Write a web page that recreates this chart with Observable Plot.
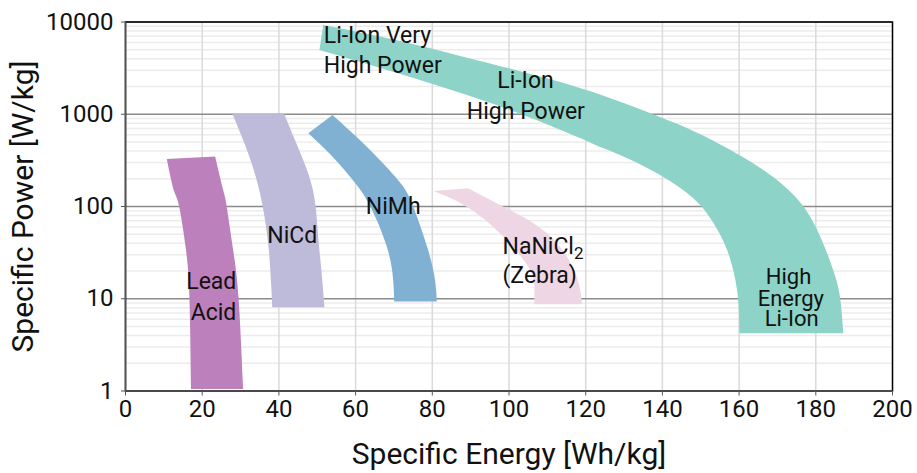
<!DOCTYPE html>
<html>
<head>
<meta charset="utf-8">
<script src="https://cdn.jsdelivr.net/npm/d3@7"></script>
<script src="https://cdn.jsdelivr.net/npm/@observablehq/plot@0.6"></script>
<style>
  html, body { margin: 0; padding: 0; background: #fff; }
  #chart svg { display: block; }
</style>
</head>
<body>
<div id="chart"></div>
<script>
// ---- tick values ----
const xTicks = [0, 20, 40, 60, 80, 100, 120, 140, 160, 180, 200];
const yTicks = [1, 10, 100, 1000, 10000];
const yMinorMultipliers = [2, 3, 4, 5, 6, 7, 8, 9];

// ---- band edges: [specific energy Wh/kg, specific power W/kg] ----
const leadAcidInner = [[10.9, 323], [12.7, 149], [14.1, 100], [15.9, 33.3], [16.8, 10.1], [17.2, 1.04]];
const leadAcidOuter = [[23.5, 344], [25.6, 149], [26.5, 100], [28.2, 33.3], [29.6, 10.1], [30.8, 1.04]];

const niCdInner = [[28.0, 1000], [31.8, 404], [35.0, 149], [37.0, 51], [37.9, 20.2], [38.4, 8.0]];
const niCdOuter = [[41.5, 1000], [45.4, 404], [49.0, 149], [50.3, 51], [51.2, 20.2], [52.0, 8.0]];

const niMhInner = [[47.8, 614], [53.7, 357], [59.4, 191], [63.9, 100], [68.3, 35.9], [69.9, 16.2], [70.2, 9.2]];
const niMhOuter = [[54.1, 969], [62.6, 458], [71.2, 191], [75.1, 100], [78.8, 35.9], [80.8, 16.2], [81.3, 9.2]];

const zebraInner = [[80.4, 145], [89.1, 98.3], [97.8, 50.6], [103.9, 26.0], [106.5, 16.2], [106.7, 8.6]];
const zebraOuter = [[89.5, 156], [97.8, 102.5], [106.5, 64.9], [113.4, 36.2], [117.8, 17.1], [119.2, 8.6]];

const liIonInner = [[50.7, 4909], [76.9, 2323], [100.4, 1098], [118.6, 546], [123.9, 436], [129.1, 357], [139.5, 217],
                    [148.1, 122], [153.3, 67.1], [157.0, 33.3], [159.1, 16.2], [160.0, 8.45], [160.2, 4.17]];
const liIonOuter = [[51.7, 9164], [71.7, 6150], [92.6, 3732], [118.6, 1901], [139.5, 922], [149.9, 603], [160.4, 353],
                    [169.0, 206], [176.8, 100], [182.0, 39.7], [185.4, 16.2], [186.7, 8.45], [187.3, 4.17]];

const bandNames = ["Lead Acid", "NiCd", "NiMh", "NaNiCl2", "Li-Ion"];
const bandColors = ["#bc80bd", "#bebada", "#80b1d3", "#efd6e4", "#8dd3c7"];
const bandInner = [leadAcidInner, niCdInner, niMhInner, zebraInner, liIonInner];
const bandOuter = [leadAcidOuter, niCdOuter, niMhOuter, zebraOuter, liIonOuter];

// ---- annotation labels (one entry per line) ----
const labelText   = ["Li-Ion Very", "High Power", "Li-Ion", "High Power", "NiMh", "NiCd", "Lead", "Acid",
                     "NaNiCl2", "(Zebra)", "High", "Energy", "Li-Ion"];
const labelEnergy = [51.7, 51.7, 104.3, 104.4, 69.8, 43.5, 28.9, 28.9, 98.3, 98.3, 172.9, 173.5, 173.7];
const labelPower  = [7194, 3404, 2339, 1063, 99.3, 48.9, 15.5, 7.04, 36.6, 18.0, 17.3, 10.06, 6.0];
const labelAnchor = ["start", "start", "middle", "middle", "middle", "middle", "end", "end",
                     "start", "start", "middle", "middle", "middle"];
const labelSize   = [23, 23, 23, 23, 23, 23, 23, 23, 23, 23, 22, 22, 22];

// ---- build tables ----
const yMinor = [];
for (const d of [1, 10, 100, 1000]) for (const m of yMinorMultipliers) yMinor.push(d * m);

const bandMarks = bandNames.map((name, k) => {
  const rows = bandInner[k].map((p, i) => ({
    xa: p[0], ya: p[1], xb: bandOuter[k][i][0], yb: bandOuter[k][i][1]
  }));
  return Plot.area(rows, {x1: "xa", y1: "ya", x2: "xb", y2: "yb",
                          fill: bandColors[k], curve: "natural"});
});

const labels = labelText.map((t, i) => ({text: t, x: labelEnergy[i], y: labelPower[i],
                                          anchor: labelAnchor[i], size: labelSize[i]}));
const labelMarks = [];
for (const a of ["start", "middle", "end"]) for (const s of [22, 23]) {
  const sub = labels.filter(d => d.anchor === a && d.size === s);
  if (sub.length) labelMarks.push(Plot.text(sub, {
    x: "x", y: "y", text: "text", textAnchor: a, fontSize: s, fill: "#111"
  }));
}

const chart = Plot.plot({
  width: 917,
  height: 473,
  marginLeft: 125,
  marginRight: 25,
  marginTop: 21.5,
  marginBottom: 82.5,
  style: {fontFamily: "Roboto, 'DejaVu Sans', sans-serif", color: "#111", background: "#fff"},
  x: {domain: [0, 200]},
  y: {type: "log", domain: [1, 10000]},
  marks: [
    Plot.ruleY(yMinor, {stroke: "#ececec", strokeWidth: 1.5}),
    Plot.ruleX(xTicks, {stroke: "#dadada", strokeWidth: 1.5}),
    Plot.ruleY(yTicks, {stroke: "#8c8c8c", strokeWidth: 1.5}),
    ...bandMarks,
    Plot.frame({stroke: "#000", strokeWidth: 1.5}),
    Plot.ruleX([0], {stroke: "#555", strokeWidth: 1.5}),
    Plot.ruleY([1], {stroke: "#555", strokeWidth: 1.5}),
    Plot.axisX({ticks: xTicks, tickSize: 5, tickPadding: 4, fontSize: 24, label: null, stroke: "#555", color: "#111"}),
    Plot.axisY({ticks: yTicks, tickFormat: d => String(d), tickSize: 4, tickPadding: 8, fontSize: 24, label: null, stroke: "#555"}),
    ...labelMarks,
    Plot.text(["Specific Energy [Wh/kg]"], {text: d => d, frameAnchor: "bottom", lineAnchor: "middle",
                                            textAnchor: "middle", dy: 63, fontSize: 30, fill: "#111"}),
    Plot.text(["Specific Power [W/kg]"], {text: d => d, frameAnchor: "left", lineAnchor: "middle",
                                          textAnchor: "middle", dx: -102, rotate: -90, fontSize: 30, fill: "#111"})
  ]
});

// subscript for NaNiCl2
d3.select(chart).selectAll("text").filter(function () { return this.textContent === "NaNiCl2"; })
  .each(function () {
    const t = d3.select(this);
    t.text("NaNiCl");
    t.append("tspan").attr("font-size", "17").attr("dy", "5").text("2");
  });

document.getElementById("chart").append(chart);
</script>
</body>
</html>
